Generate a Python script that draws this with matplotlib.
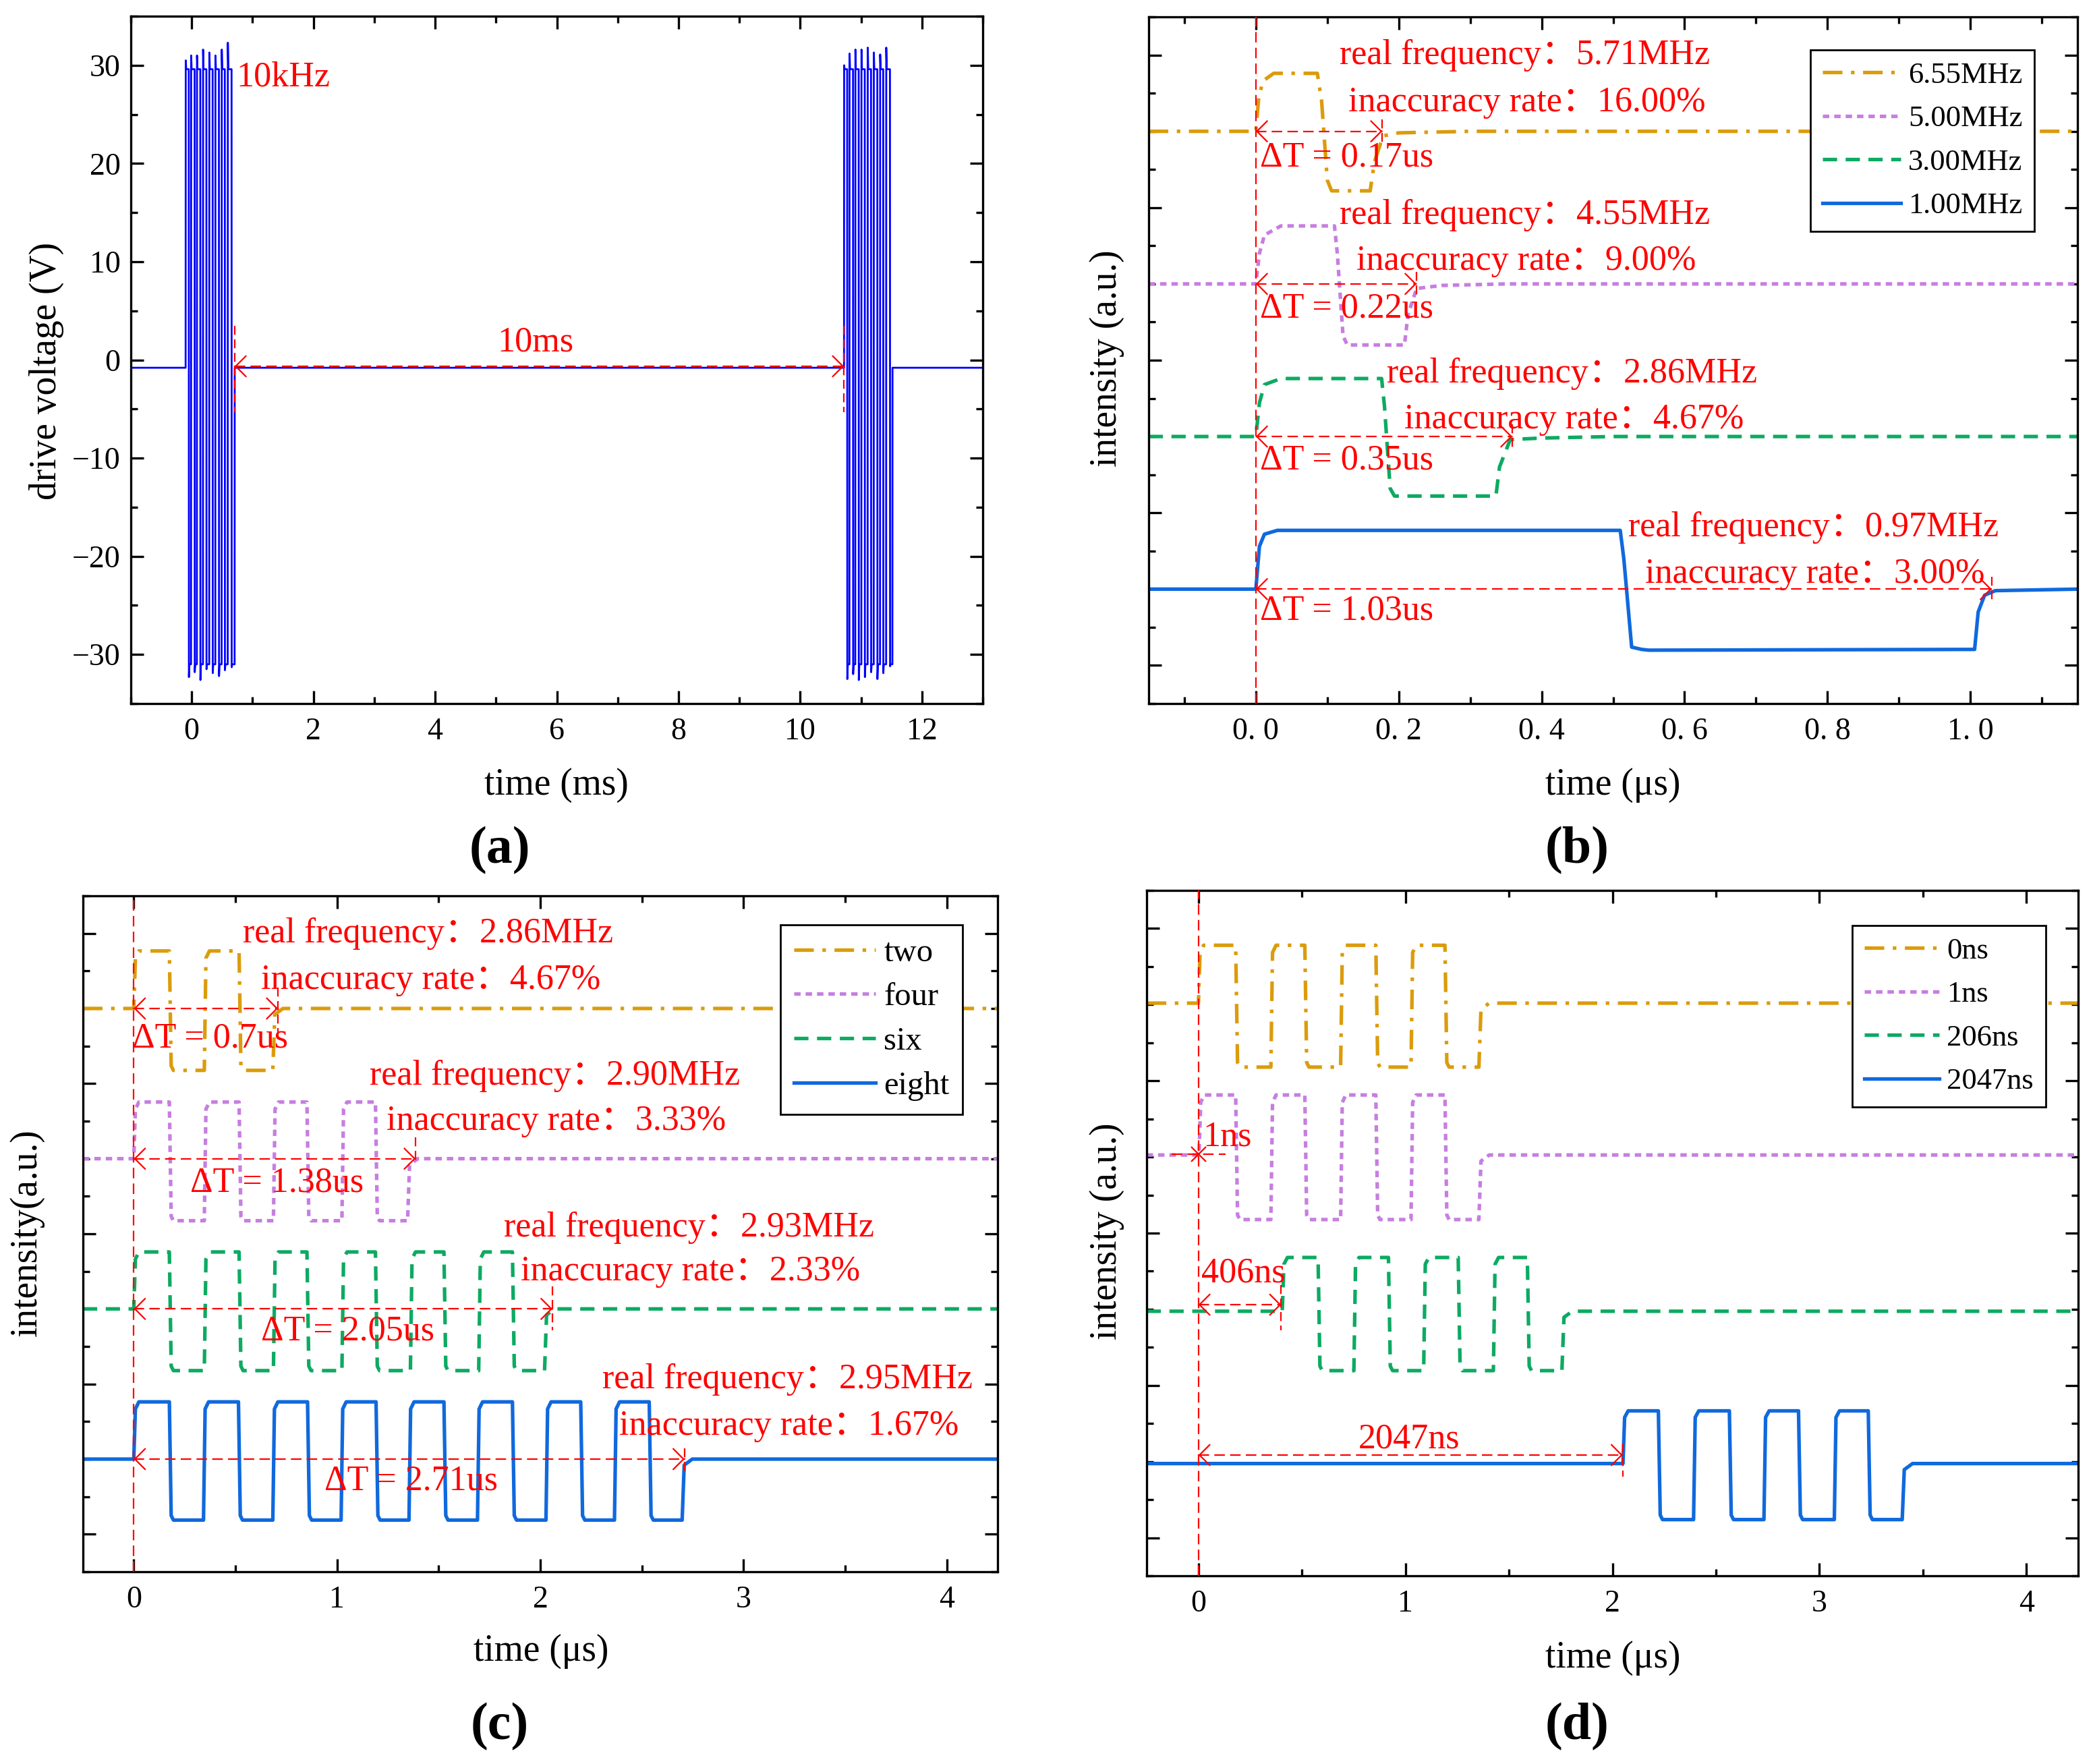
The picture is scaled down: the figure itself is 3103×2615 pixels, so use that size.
import matplotlib
matplotlib.use("Agg")
import matplotlib.pyplot as plt
from matplotlib.ticker import MultipleLocator, FixedLocator, FixedFormatter

# ---------------- data ----------------
# (a) drive voltage (time in ms, voltage in V)
a_base = -0.8
a_high = 29.6
a_low = -31.0
a_b1_rises = [-0.100, -0.011, 0.085, 0.185, 0.288, 0.388, 0.492, 0.592]
a_b1_falls = [-0.048, 0.048, 0.141, 0.241, 0.344, 0.447, 0.544, 0.655]
a_b1_end = 0.705
a_b1_peaks = [30.5, 31.0, 31.0, 31.6, 31.3, 31.0, 31.6, 32.3]
a_b1_lows = [-32.3, -31.8, -32.6, -31.5, -31.9, -32.2, -31.6, -31.3]
a_b2_rises = [10.720, 10.809, 10.905, 11.005, 11.108, 11.208, 11.312, 11.412]
a_b2_falls = [10.772, 10.868, 10.961, 11.061, 11.164, 11.267, 11.364, 11.475]
a_b2_end = 11.515
a_b2_peaks = [30.0, 31.2, 31.6, 31.6, 31.8, 31.3, 31.1, 31.8]
a_b2_lows = [-32.5, -32.0, -32.6, -32.3, -31.8, -32.5, -31.9, -31.2]
a_xticks = [0, 2, 4, 6, 8, 10, 12]
a_yticks = [-30, -20, -10, 0, 10, 20, 30]

# (b) single pulses, time in us, intensity offset in a.u.
b_labels = ["6.55MHz", "5.00MHz", "3.00MHz", "1.00MHz"]
b_orange_t = [-0.15, 0.000, 0.004, 0.010, 0.025, 0.086, 0.092, 0.100, 0.106, 0.160, 0.166, 0.178, 0.200, 0.300, 1.15]
b_orange_y = [3.50, 3.50, 3.72, 3.83, 3.88, 3.88, 3.70, 3.18, 3.11, 3.11, 3.30, 3.47, 3.49, 3.50, 3.50]
b_purple_t = [-0.15, 0.000, 0.005, 0.012, 0.035, 0.110, 0.114, 0.122, 0.128, 0.208, 0.213, 0.225, 0.260, 0.350, 1.15]
b_purple_y = [2.50, 2.50, 2.70, 2.82, 2.88, 2.88, 2.70, 2.16, 2.10, 2.10, 2.30, 2.47, 2.49, 2.50, 2.50]
b_green_t = [-0.15, 0.000, 0.005, 0.012, 0.035, 0.176, 0.180, 0.188, 0.194, 0.336, 0.341, 0.356, 0.400, 0.500, 1.15]
b_green_y = [1.50, 1.50, 1.72, 1.84, 1.88, 1.88, 1.70, 1.16, 1.11, 1.11, 1.30, 1.48, 1.49, 1.50, 1.50]
b_blue_t = [-0.15, 0.000, 0.005, 0.012, 0.030, 0.510, 0.515, 0.526, 0.540, 0.550, 1.006, 1.011, 1.020, 1.035, 1.15]
b_blue_y = [0.50, 0.50, 0.78, 0.86, 0.885, 0.885, 0.70, 0.12, 0.105, 0.10, 0.105, 0.35, 0.46, 0.49, 0.50]
b_xticks = [0.0, 0.2, 0.4, 0.6, 0.8, 1.0]
b_xticklabels = ["0. 0", "0. 2", "0. 4", "0. 6", "0. 8", "1. 0"]
b_real = ["5.71MHz", "4.55MHz", "2.86MHz", "0.97MHz"]
b_rate = ["16.00%", "9.00%", "4.67%", "3.00%"]
b_dt = [0.17, 0.22, 0.35, 1.03]
b_arrow_end = [0.177, 0.225, 0.359, 1.030]

# (c) pulse trains of different length (time in us)
c_labels = ["two", "four", "six", "eight"]
c_two_rises = [0.000, 0.347]
c_two_falls = [0.175, 0.518]
c_two_end = 0.684
c_four_rises = [0.000, 0.347, 0.687, 1.024]
c_four_falls = [0.175, 0.518, 0.852, 1.189]
c_four_end = 1.347
c_six_rises = [0.000, 0.347, 0.687, 1.024, 1.361, 1.697]
c_six_falls = [0.175, 0.518, 0.852, 1.189, 1.526, 1.863]
c_six_end = 2.021
c_eight_rises = [0.000, 0.343, 0.684, 1.020, 1.354, 1.691, 2.028, 2.365]
c_eight_falls = [0.175, 0.515, 0.855, 1.192, 1.526, 1.863, 2.199, 2.536]
c_eight_end = 2.698
c_levels = [(3.50, 3.883, 3.088), (2.50, 2.877, 2.087), (1.50, 1.879, 1.089), (0.50, 0.881, 0.094)]
c_real = ["2.86MHz", "2.90MHz", "2.93MHz", "2.95MHz"]
c_rate = ["4.67%", "3.33%", "2.33%", "1.67%"]
c_dt = ["0.7", "1.38", "2.05", "2.71"]
c_arrow_end = [0.71, 1.387, 2.06, 2.71]

# (d) pulse trains with different delays (time in us)
d_labels = ["0ns", "1ns", "206ns", "2047ns"]
d_0_rises = [0.000, 0.350, 0.687, 1.027]
d_0_falls = [0.180, 0.514, 0.857, 1.191]
d_0_end = 1.355
d_1_rises = [0.003, 0.350, 0.687, 1.027]
d_1_falls = [0.180, 0.514, 0.857, 1.191]
d_1_end = 1.355
d_206_rises = [0.405, 0.751, 1.088, 1.425]
d_206_falls = [0.578, 0.918, 1.255, 1.589]
d_206_end = 1.756
d_2047_rises = [2.051, 2.392, 2.732, 3.072]
d_2047_falls = [2.222, 2.565, 2.899, 3.236]
d_2047_end = 3.400
d_levels = [(3.51, 3.89, 3.09), (2.513, 2.907, 2.089), (1.487, 1.84, 1.097), (0.487, 0.833, 0.119)]
d_delay_406 = 0.40
d_delay_2047 = 2.05

# ---------------- styling ----------------
W, H = 3103, 2615
DPI = 100
SERIF = ["Liberation Serif", "Noto Sans CJK SC", "DejaVu Serif"]
plt.rcParams["font.family"] = SERIF
plt.rcParams["axes.unicode_minus"] = True

ORANGE = "#DB9C0C"
PURPLE = "#C77EE0"
GREEN = "#0DAA62"
BLUE = "#1069DD"
COLORS = [ORANGE, PURPLE, GREEN, BLUE]
DASHES = [(5.5, 2.4, 1.0, 2.4), (1.8, 1.4), (4.0, 2.4), None]
LW = 3.8
RED_DASH = (7, 3.5)
RLW = 1.6
TICK_FS = 33

fig = plt.figure(figsize=(W / DPI, H / DPI), dpi=DPI)


def add_axes(l, t, r, b):
    return fig.add_axes([l / W, 1 - b / H, (r - l) / W, (b - t) / H])


def ftext(x, y, s, **kw):
    fig.text(x / W, 1 - y / H, s, ha="center", va="center", family=SERIF, **kw)


def style_axes(ax):
    for s in ax.spines.values():
        s.set_linewidth(2.4)
    ax.tick_params(which="both", direction="in", top=True, right=True, width=2.4)
    ax.tick_params(which="major", length=14)
    ax.tick_params(which="minor", length=7)
    ax.tick_params(axis="x", which="major", pad=15, labelsize=TICK_FS,
                   labelfontfamily="Liberation Serif")
    ax.tick_params(axis="y", which="major", pad=11, labelsize=TICK_FS,
                   labelfontfamily="Liberation Serif")


def series_line(ax, x, y, i, label=None):
    kw = dict(color=COLORS[i], lw=LW, label=label, solid_joinstyle="round")
    if DASHES[i] is not None:
        kw["dashes"] = DASHES[i]
    return ax.plot(x, y, **kw)[0]


def square(rises, falls, end, base, high, low, x0, x1, tr=0.010):
    xs = [x0, rises[0]]
    ys = [base, base]
    cur = base
    for r, f in zip(rises, falls):
        xs += [r, r + tr * 0.8, r + tr * 2.5, f, f + tr * 0.9, f + tr * 2.0]
        ys += [cur, high - 0.06 * (high - low), high, high, low + 0.03, low]
        cur = low
    xs += [end, end + tr, end + tr * 5, x1]
    ys += [low, base - 0.04, base, base]
    return xs, ys


def head(ax, x, y, direction):
    ax.annotate("", xy=(x, y), xytext=(x + direction * 1e-3, y),
                arrowprops=dict(arrowstyle="->,head_length=0.5,head_width=0.5",
                                color="red", lw=RLW, shrinkA=0, shrinkB=0,
                                mutation_scale=22), zorder=6)


def dim_arrow(ax, x0, x1, y):
    ax.plot([x0, x1], [y, y], color="red", lw=RLW, dashes=RED_DASH, zorder=6)
    head(ax, x0, y, +1)
    head(ax, x1, y, -1)


def vtick(ax, x, y0, y1):
    ax.plot([x, x], [y0, y1], color="red", lw=RLW, dashes=(6, 3), zorder=6)


def red_text(ax, x, y, s, size=37.5, ha="left"):
    ax.text(x, y, s, color="red", fontsize=size, ha=ha, va="center", zorder=7,
            family=SERIF)


def make_legend(ax, handles, anchor, fs, spacing, hlen):
    leg = ax.legend(handles=handles, loc="upper right", bbox_to_anchor=anchor,
                    borderaxespad=0, labelspacing=spacing,
                    handlelength=hlen, handletextpad=0.25, borderpad=0.4,
                    fancybox=False, framealpha=1, edgecolor="black",
                    prop={"family": SERIF, "size": fs})
    leg.get_frame().set_linewidth(2.0)
    leg.set_zorder(10)
    return leg


# ---------------- (a) ----------------
axa = add_axes(194, 24, 1457, 1043)


def burst(rises, falls, end, peaks, lows):
    xs, ys = [], []
    cur = a_base
    for r, f, p, l in zip(rises, falls, peaks, lows):
        xs += [r, r + 0.002, r + 0.010, f, f + 0.002, f + 0.010]
        ys += [cur, p, a_high, a_high, l, a_low]
        cur = a_low
    xs += [end, end + 0.002]
    ys += [a_low, a_base]
    return xs, ys


x1, y1 = burst(a_b1_rises, a_b1_falls, a_b1_end, a_b1_peaks, a_b1_lows)
x2, y2 = burst(a_b2_rises, a_b2_falls, a_b2_end, a_b2_peaks, a_b2_lows)
ax_x = [-1.0] + x1 + x2 + [13.0]
ax_y = [a_base] + y1 + y2 + [a_base]
axa.plot(ax_x, ax_y, color="#0000FF", lw=2.0)
axa.set_xlim(-1, 13)
axa.set_ylim(-35, 35)
axa.xaxis.set_major_locator(FixedLocator(a_xticks))
axa.xaxis.set_minor_locator(MultipleLocator(1))
axa.yaxis.set_major_locator(FixedLocator(a_yticks))
axa.yaxis.set_minor_locator(MultipleLocator(5))
style_axes(axa)
red_text(axa, 0.73, 28.8, "10kHz")
red_text(axa, 5.65, 1.8, "10ms", ha="center")
dim_arrow(axa, a_b1_end, a_b2_rises[0], -0.65)
vtick(axa, a_b1_end, 3.45, -5.3)
vtick(axa, a_b2_rises[0], 3.45, -5.3)

# ---------------- (b) ----------------
axb = add_axes(1703, 25, 3080, 1043)
b_data = [(b_orange_t, b_orange_y), (b_purple_t, b_purple_y),
          (b_green_t, b_green_y), (b_blue_t, b_blue_y)]
hb = []
for i, (t, y) in enumerate(b_data):
    hb.append(series_line(axb, t, y, i, b_labels[i]))
axb.set_xlim(-0.15, 1.15)
axb.set_ylim(-0.25, 4.25)
axb.xaxis.set_major_locator(FixedLocator(b_xticks))
axb.xaxis.set_major_formatter(FixedFormatter(b_xticklabels))
axb.xaxis.set_minor_locator(MultipleLocator(0.1))
axb.yaxis.set_major_locator(MultipleLocator(1))
axb.yaxis.set_minor_locator(MultipleLocator(0.25))
style_axes(axb)
axb.tick_params(axis="y", labelleft=False)
axb.axvline(0, color="red", lw=RLW, dashes=RED_DASH, zorder=6)
b_txt_pos = [(0.117, 4.00, 0.129, 3.69, 3.33),
             (0.117, 2.95, 0.141, 2.65, 2.34),
             (0.183, 1.91, 0.208, 1.61, 1.345),
             (0.521, 0.905, 0.545, 0.60, 0.36)]
b_base = [3.5, 2.5, 1.5, 0.5]
for i in range(4):
    xr, yr, xi, yi, yd = b_txt_pos[i]
    red_text(axb, xr, yr, "real frequency：" + b_real[i])
    red_text(axb, xi, yi, "inaccuracy rate：" + b_rate[i])
    red_text(axb, 0.006, yd, "ΔT = %.2fus" % b_dt[i])
    dim_arrow(axb, 0.0, b_arrow_end[i], b_base[i])
    vtick(axb, b_arrow_end[i], b_base[i] + 0.08, b_base[i] - 0.08)
make_legend(axb, hb, (0.9535, 0.952), 32, 0.55, 2.6)

# ---------------- (c) ----------------
axc = add_axes(123, 1328, 1479, 2330)
c_sets = [(c_two_rises, c_two_falls, c_two_end), (c_four_rises, c_four_falls, c_four_end),
          (c_six_rises, c_six_falls, c_six_end), (c_eight_rises, c_eight_falls, c_eight_end)]
hc = []
for i, (r, f, e) in enumerate(c_sets):
    base, hi, lo = c_levels[i]
    xs, ys = square(r, f, e, base, hi, lo, -0.25, 4.25)
    hc.append(series_line(axc, xs, ys, i, c_labels[i]))
axc.set_xlim(-0.25, 4.25)
axc.set_ylim(-0.25, 4.25)
axc.xaxis.set_major_locator(MultipleLocator(1))
axc.xaxis.set_minor_locator(MultipleLocator(0.5))
axc.yaxis.set_major_locator(MultipleLocator(1))
axc.yaxis.set_minor_locator(MultipleLocator(0.25))
style_axes(axc)
axc.tick_params(axis="y", labelleft=False)
axc.axvline(0, color="red", lw=RLW, dashes=RED_DASH, zorder=6)
c_txt_pos = [(0.538, 4.00, 0.627, 3.69, -0.007, 3.30),
             (1.159, 3.05, 1.242, 2.75, 0.277, 2.34),
             (1.820, 2.04, 1.905, 1.75, 0.627, 1.35),
             (2.305, 1.03, 2.388, 0.72, 0.938, 0.354)]
c_vt = [(3.64, 3.28), (2.64, 2.47), (1.65, 1.36), (0.57, 0.42)]
c_base = [3.5, 2.5, 1.5, 0.5]
for i in range(4):
    xr, yr, xi, yi, xd, yd = c_txt_pos[i]
    red_text(axc, xr, yr, "real frequency：" + c_real[i])
    red_text(axc, xi, yi, "inaccuracy rate：" + c_rate[i])
    red_text(axc, xd, yd, "ΔT = " + c_dt[i] + "us")
    dim_arrow(axc, 0.0, c_arrow_end[i], c_base[i])
    vtick(axc, c_arrow_end[i], c_vt[i][0], c_vt[i][1])
make_legend(axc, hc, (0.9617, 0.957), 35, 0.45, 2.5)

# ---------------- (d) ----------------
axd = add_axes(1700, 1320, 3081, 2336)
d_sets = [(d_0_rises, d_0_falls, d_0_end), (d_1_rises, d_1_falls, d_1_end),
          (d_206_rises, d_206_falls, d_206_end), (d_2047_rises, d_2047_falls, d_2047_end)]
hd = []
for i, (r, f, e) in enumerate(d_sets):
    base, hi, lo = d_levels[i]
    xs, ys = square(r, f, e, base, hi, lo, -0.25, 4.25)
    hd.append(series_line(axd, xs, ys, i, d_labels[i]))
axd.set_xlim(-0.25, 4.25)
axd.set_ylim(-0.25, 4.25)
axd.xaxis.set_major_locator(MultipleLocator(1))
axd.xaxis.set_minor_locator(MultipleLocator(0.5))
axd.yaxis.set_major_locator(MultipleLocator(1))
axd.yaxis.set_minor_locator(MultipleLocator(0.25))
style_axes(axd)
axd.tick_params(axis="y", labelleft=False)
axd.axvline(0, color="red", lw=RLW, dashes=RED_DASH, zorder=6)
red_text(axd, 0.022, 2.63, "1ns")
axd.plot([-0.13, 0.13], [2.52, 2.52], color="red", lw=RLW, dashes=RED_DASH, zorder=6)
axd.plot([0.0], [2.52], marker="x", color="red", ms=16, mew=RLW, zorder=7)
red_text(axd, 0.013, 1.736, "406ns")
dim_arrow(axd, 0.0, d_delay_406, 1.53)
vtick(axd, d_delay_406, 1.66, 1.36)
red_text(axd, 1.018, 0.647, "2047ns", ha="center")
dim_arrow(axd, 0.0, d_delay_2047, 0.543)
vtick(axd, d_delay_2047, 0.62, 0.40)
make_legend(axd, hd, (0.965, 0.949), 32, 0.55, 2.5)

# ---------------- labels ----------------
LBL = 40
ftext(825, 1164, "time (ms)", fontsize=LBL)
ftext(69, 550, "drive voltage (V)", fontsize=LBL, rotation=90)
ftext(2391, 1164, "time (μs)", fontsize=LBL)
ftext(1641, 531, "intensity (a.u.)", fontsize=LBL, rotation=90)
ftext(802, 2448, "time (μs)", fontsize=LBL)
ftext(40, 1827, "intensity(a.u.)", fontsize=LBL, rotation=90)
ftext(2391, 2458, "time (μs)", fontsize=LBL)
ftext(1641, 1825, "intensity (a.u.)", fontsize=LBL, rotation=90)
ftext(741, 1261, "(a)", fontsize=56, fontweight="bold")
ftext(2338, 1261, "(b)", fontsize=56, fontweight="bold")
ftext(741, 2560, "(c)", fontsize=56, fontweight="bold")
ftext(2338, 2560, "(d)", fontsize=56, fontweight="bold")

fig.savefig("out.png", dpi=DPI)
